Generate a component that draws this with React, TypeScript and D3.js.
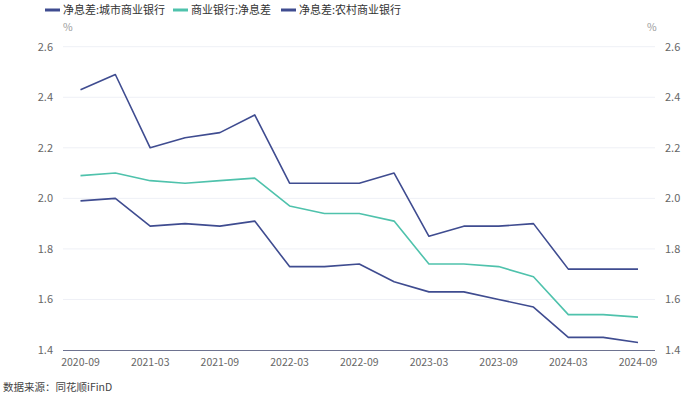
import React from "react";
import * as d3 from "d3";

const dates = ["2020-09","2020-12","2021-03","2021-06","2021-09","2021-12","2022-03","2022-06","2022-09","2022-12","2023-03","2023-06","2023-09","2023-12","2024-03","2024-06","2024-09"];
const tickLabels = ["2020-09","2021-03","2021-09","2022-03","2022-09","2023-03","2023-09","2024-03","2024-09"];
const yTicks = [1.4, 1.6, 1.8, 2.0, 2.2, 2.4, 2.6];
const cityBank = [2.43,2.49,2.20,2.24,2.26,2.33,2.06,2.06,2.06,2.10,1.85,1.89,1.89,1.90,1.72,1.72,1.72];
const commercialBank = [2.09,2.10,2.07,2.06,2.07,2.08,1.97,1.94,1.94,1.91,1.74,1.74,1.73,1.69,1.54,1.54,1.53];
const ruralBank = [1.99,2.00,1.89,1.90,1.89,1.91,1.73,1.73,1.74,1.67,1.63,1.63,1.60,1.57,1.45,1.45,1.43];
const seriesNames = ["净息差:城市商业银行","商业银行:净息差","净息差:农村商业银行"];

const NAVY = "#3f4c90";
const TEAL = "#4fc2ac";
const FONT = "'Noto Sans CJK SC', 'Microsoft YaHei', sans-serif";

export default function App() {
  const W = 700, H = 396;
  const x = d3.scalePoint<string>().domain(dates).range([80.5, 638]);
  const y = d3.scaleLinear().domain([1.4, 2.6]).range([350, 46.7]);
  const line = d3.line<number>().x((_, i) => x(dates[i]) as number).y(d => y(d));
  const series = [
    { name: seriesNames[0], data: cityBank, color: NAVY },
    { name: seriesNames[1], data: commercialBank, color: TEAL },
    { name: seriesNames[2], data: ruralBank, color: NAVY },
  ];
  const legendX = [45, 173, 281];
  return (
    <svg width={W} height={H} style={{ position: "absolute", left: 0, top: 0, fontFamily: FONT }}>
      <rect width={W} height={H} fill="#fff" />
      {series.map((s, i) => (
        <g key={s.name}>
          <line x1={legendX[i]} x2={legendX[i] + 15} y1={10} y2={10} stroke={s.color} strokeWidth={3} />
          <text x={legendX[i] + 18} y={14} fontSize={11} fill="#333">{s.name}</text>
        </g>
      ))}
      <text x={63} y={31} fontSize={10.5} fill="#999">%</text>
      <text x={647} y={31} fontSize={10.5} fill="#999">%</text>
      {yTicks.map(t => (
        <g key={t}>
          {t > 1.4 && <line x1={63} x2={655} y1={y(t)} y2={y(t)} stroke="#eef0f6" strokeWidth={1} />}
          <text x={53} y={y(t) + 4} fontSize={11} fill="#666" textAnchor="end">{t.toFixed(1)}</text>
          <text x={665} y={y(t) + 4} fontSize={11} fill="#666">{t.toFixed(1)}</text>
        </g>
      ))}
      <line x1={63} x2={655} y1={350.5} y2={350.5} stroke="#6e7390" strokeWidth={1} />
      {tickLabels.map(t => (
        <text key={t} x={x(t) as number} y={366} fontSize={10.5} fill="#666" textAnchor="middle">{t}</text>
      ))}
      {series.map(s => (
        <path key={s.name} d={line(s.data) || ""} fill="none" stroke={s.color} strokeWidth={1.6} strokeLinejoin="round" />
      ))}
      <text x={3} y={391} fontSize={10.5} fill="#444">数据来源：同花顺iFinD</text>
    </svg>
  );
}
